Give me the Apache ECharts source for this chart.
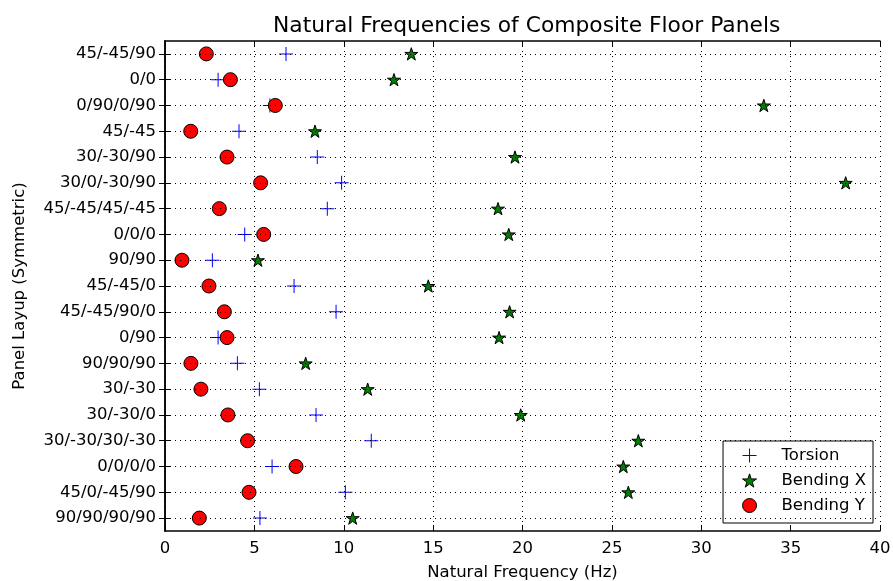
<!DOCTYPE html>
<html>
<head>
<meta charset="utf-8">
<script src="https://cdn.jsdelivr.net/npm/echarts@6/dist/echarts.min.js"></script>
<style>html,body{margin:0;padding:0;background:#fff}#c{width:893px;height:581px}</style>
</head>
<body>
<div id="c"></div>
<script>
const categories = ['45/-45/90','0/0','0/90/0/90','45/-45','30/-30/90','30/0/-30/90','45/-45/45/-45','0/0/0','90/90','45/-45/0','45/-45/90/0','0/90','90/90/90','30/-30','30/-30/0','30/-30/30/-30','0/0/0/0','45/0/-45/90','90/90/90/90'];
const torsion   = [6.77, 2.97, 5.87, 4.14, 8.52, 9.88, 9.08, 4.46, 2.65, 7.22, 9.57, 2.97, 4.05, 5.28, 8.45, 11.54, 5.99, 10.09, 5.31];
const bendingX  = [13.78, 12.81, 33.5, 8.39, 19.58, 38.08, 18.63, 19.23, 5.2, 14.73, 19.28, 18.69, 7.87, 11.34, 19.9, 26.48, 25.64, 25.92, 10.5];
const bendingY  = [2.31, 3.66, 6.17, 1.44, 3.47, 5.35, 3.04, 5.52, 0.95, 2.46, 3.32, 3.47, 1.45, 2.01, 3.52, 4.62, 7.33, 4.7, 1.92];
const xTicks = [0, 5, 10, 15, 20, 25, 30, 35, 40];
const seriesNames = ['Torsion', 'Bending X', 'Bending Y'];

const FONT = 'DejaVu Sans';
const FS = 16.5;
const plusPath = 'path://M-0.5,-7 L0.5,-7 L0.5,-0.5 L7,-0.5 L7,0.5 L0.5,0.5 L0.5,7 L-0.5,7 L-0.5,0.5 L-7,0.5 L-7,-0.5 L-0.5,-0.5 Z';
const starBody = 'M0,-1 L0.2245,-0.309 L0.9511,-0.309 L0.3633,0.118 L0.5878,0.809 L0,0.382 L-0.5878,0.809 L-0.3633,0.118 L-0.9511,-0.309 L-0.2245,-0.309 Z';
const starPath = 'path://' + starBody;
const starLegendPath = 'path://M-1.35,-1.3 M1.35,1.4 ' + starBody;

const pairs = arr => arr.map((v, i) => [v, categories[i]]);
const gridDots = { color: '#000', width: 1, type: [1, 4] };
const frame = { show: true, lineStyle: { color: '#000', width: 1.5 } };
const ticks = { show: true, inside: true, length: 6, lineStyle: { color: '#000', width: 1 } };

const chart = echarts.init(document.getElementById('c'), null, { renderer: 'canvas' });
chart.setOption({
  animation: false,
  backgroundColor: '#fff',
  textStyle: { fontFamily: FONT },
  title: {
    text: 'Natural Frequencies of Composite Floor Panels',
    left: 268, top: 10,
    textStyle: { fontFamily: FONT, fontSize: 21.8, fontWeight: 'normal', color: '#000' }
  },
  grid: { left: 165, right: 13, top: 41, bottom: 50, containLabel: false, outerBoundsMode: 'none' },
  legend: {
    orient: 'vertical',
    right: 20, bottom: 58,
    padding: [6, 7, 9, 19],
    itemGap: 8,
    itemWidth: 14, itemHeight: 14,
    itemStyle: { borderWidth: 1 },
    backgroundColor: '#fff',
    borderColor: '#000', borderWidth: 1, borderRadius: 0,
    selectedMode: false,
    textStyle: { fontFamily: FONT, fontSize: FS, color: '#000', padding: [0, 0, 0, 20] },
    data: seriesNames
  },
  xAxis: [{
    type: 'value', min: 0, max: 40, interval: 5, position: 'bottom',
    name: 'Natural Frequency (Hz)', nameLocation: 'middle', nameGap: 33,
    nameTextStyle: { fontFamily: FONT, fontSize: FS, color: '#000' },
    axisLine: frame, axisTick: ticks,
    axisLabel: { fontFamily: FONT, fontSize: FS, color: '#000', margin: 9,
      formatter: v => xTicks.includes(v) ? String(v) : '' },
    splitLine: { show: true, lineStyle: gridDots }
  }, {
    type: 'value', min: 0, max: 40, interval: 5, position: 'top',
    axisLine: frame, axisTick: ticks,
    axisLabel: { show: false }, splitLine: { show: false }
  }],
  yAxis: [{
    type: 'category', data: categories, inverse: true, position: 'left',
    name: 'Panel Layup (Symmetric)', nameLocation: 'middle', nameGap: 137, nameRotate: 90,
    nameTextStyle: { fontFamily: FONT, fontSize: FS, color: '#000' },
    axisLine: frame,
    axisTick: Object.assign({ alignWithLabel: true, interval: 0 }, ticks),
    axisLabel: { fontFamily: FONT, fontSize: FS, color: '#000', margin: 9, interval: 0 },
    splitLine: { show: false }
  }, {
    type: 'category', data: categories, inverse: true, position: 'right',
    axisLine: frame,
    axisTick: Object.assign({ alignWithLabel: true, interval: 0 }, ticks),
    axisLabel: { show: false }, splitLine: { show: false }
  }],
  series: [{
    name: seriesNames[0], type: 'scatter', xAxisIndex: 0, yAxisIndex: 0,
    data: pairs(torsion), symbol: plusPath, symbolSize: 14,
    itemStyle: { color: '#0000ff', opacity: 1 },
    emphasis: { disabled: true },
    markLine: {
      silent: true, symbol: ['none', 'none'], label: { show: false },
      lineStyle: gridDots, animation: false,
      data: categories.map(c => ({ yAxis: c }))
    },
    z: 2
  }, {
    name: seriesNames[1], type: 'scatter', xAxisIndex: 0, yAxisIndex: 0,
    data: pairs(bendingX), symbol: starPath, symbolSize: 13, symbolKeepAspect: true,
    legendIcon: starLegendPath,
    itemStyle: { color: '#008000', borderColor: '#000', borderWidth: 1, opacity: 1 },
    emphasis: { disabled: true }, z: 3
  }, {
    name: seriesNames[2], type: 'scatter', xAxisIndex: 0, yAxisIndex: 0,
    data: pairs(bendingY), symbol: 'circle', symbolSize: 14,
    itemStyle: { color: '#ff0000', borderColor: '#000', borderWidth: 1, opacity: 1 },
    emphasis: { disabled: true }, z: 4
  }]
});
</script>
</body>
</html>
